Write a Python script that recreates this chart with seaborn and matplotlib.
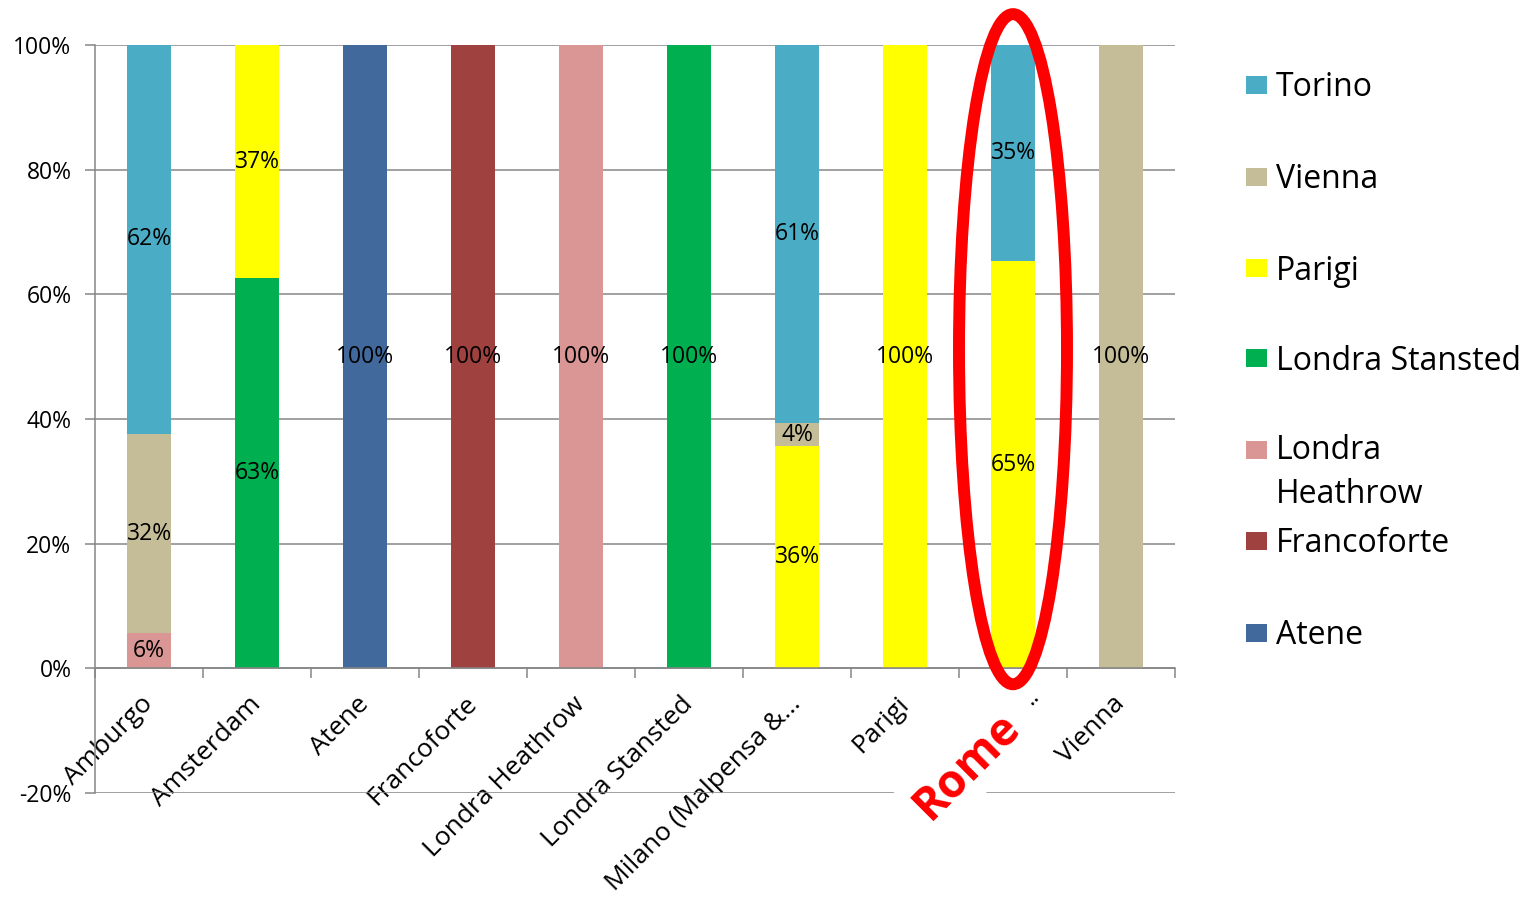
import matplotlib
matplotlib.use("Agg")
import matplotlib.pyplot as plt
import seaborn as sns
import pandas as pd
import numpy as np
from matplotlib.patches import Ellipse, Rectangle
from matplotlib.ticker import PercentFormatter

# ---- data (share of routes per destination, %) ----
airports = ["Amburgo", "Amsterdam", "Atene", "Francoforte", "Londra Heathrow",
            "Londra Stansted", "Milano (Malpensa &…", "Parigi", "Rome", "Vienna"]
series = ["Torino", "Vienna", "Parigi", "Londra Stansted", "Londra Heathrow",
          "Francoforte", "Atene"]
legend_labels = ["Torino", "Vienna", "Parigi", "Londra Stansted",
                 "Londra\nHeathrow", "Francoforte", "Atene"]

torino          = [62.4, 0, 0, 0, 0, 0, 60.6, 0, 34.7, 0]
vienna          = [32.0, 0, 0, 0, 0, 0, 3.8, 0, 0, 100]
parigi          = [0, 37.4, 0, 0, 0, 0, 35.6, 100, 65.3, 0]
londra_stansted = [0, 62.6, 0, 0, 0, 100, 0, 0, 0, 0]
londra_heathrow = [5.6, 0, 0, 0, 100, 0, 0, 0, 0, 0]
francoforte     = [0, 0, 0, 100, 0, 0, 0, 0, 0, 0]
atene           = [0, 0, 100, 0, 0, 0, 0, 0, 0, 0]

colors = {"Torino": "#4BACC6", "Vienna": "#C4BD97", "Parigi": "#FFFF00",
          "Londra Stansted": "#00B050", "Londra Heathrow": "#D99694",
          "Francoforte": "#9E413F", "Atene": "#41699C"}

values = dict(zip(series, [torino, vienna, parigi, londra_stansted,
                           londra_heathrow, francoforte, atene]))
rows = [(a, s, values[s][i]) for i, a in enumerate(airports) for s in series]
df = pd.DataFrame(rows, columns=["airport", "city", "share"])

# ---- style ----
sns.set_style("white")
plt.rcParams["font.family"] = ["Open Sans", "DejaVu Sans"]
plt.rcParams["axes.unicode_minus"] = False
plt.rcParams["text.color"] = "black"
GRID = "#868686"
W, H = 1534, 899

fig = plt.figure(figsize=(W / 100, H / 100), dpi=100)
ax = fig.add_axes([95 / W, 1 - 793 / H, 1080 / W, 748 / H])

sns.histplot(data=df, x="airport", hue="city", weights="share",
             multiple="stack", discrete=True, shrink=0.4,
             hue_order=series, palette=colors, linewidth=0, alpha=1,
             ax=ax, legend=False)

# data labels
for c in ax.containers:
    labs = [f"{v:.0f}%" if v > 0 else "" for v in c.datavalues]
    ax.bar_label(c, labels=labs, label_type="center", fontsize=16.5,
                 color="black", zorder=4)

# axes
ax.set_xlim(-0.5, 9.5)
ax.set_ylim(-20, 100)
ax.set_yticks(range(-20, 101, 20))
ax.yaxis.set_major_formatter(PercentFormatter(decimals=0))
ax.set_xlabel("")
ax.set_ylabel("")
ax.set_axisbelow(True)
ax.grid(axis="y", color=GRID, linewidth=1.1)
ax.grid(axis="x", visible=False)

for s in ["top", "right"]:
    ax.spines[s].set_visible(False)
ax.spines["left"].set_color(GRID)
ax.spines["left"].set_linewidth(1.1)
ax.spines["bottom"].set_color(GRID)
ax.spines["bottom"].set_linewidth(1.1)
ax.spines["bottom"].set_position(("data", 0))

ax.tick_params(axis="y", which="major", length=7, width=1.1, color=GRID,
               pad=10, labelsize=16.5, labelcolor="black", left=True)
# the Rome label is replaced by the highlighted annotation below
ax.set_xticks(range(len(airports)))
ax.set_xticklabels(["" if a == "Rome" else a for a in airports])
ax.set_xticks(np.arange(-0.5, len(airports), 1), minor=True)
ax.tick_params(axis="x", which="major", length=0, pad=23, labelsize=19,
               labelcolor="black")
ax.tick_params(axis="x", which="minor", length=7, width=1.1, color=GRID,
               bottom=True, direction="out")
plt.setp(ax.get_xticklabels(), rotation=45, ha="right", va="center",
         rotation_mode="anchor")

# highlight Rome
rome = airports.index("Rome")
ax.add_patch(Ellipse((rome, 51.2), width=1.0, height=107.5, fill=False,
                     edgecolor="red", linewidth=8.6, clip_on=False, zorder=7))
ax.annotate("Rome", xy=(rome, 0), xytext=(-33, -70), textcoords="offset points",
            rotation=45, rotation_mode="anchor", ha="center", va="center",
            fontsize=33, fontweight="bold", color="red", zorder=6,
            annotation_clip=False,
            bbox=dict(boxstyle="square,pad=0.2", fc="white", ec="none"))
ax.annotate("..", xy=(rome, 0), xytext=(13, -21), textcoords="offset points",
            rotation=45, rotation_mode="anchor", ha="center", va="center",
            fontsize=17, color="black", zorder=8, annotation_clip=False)

# legend (Excel-like layout, Heathrow entry on two lines)
legend_y = [85, 177, 268, 358, 450, 541, 633]
for name, lab, y in zip(series, legend_labels, legend_y):
    fig.add_artist(Rectangle((1246 / W, 1 - (y + 9) / H), 21 / W, 18 / H,
                             transform=fig.transFigure, color=colors[name],
                             linewidth=0))
    if "\n" in lab:
        fig.text(1276 / W, 1 - (y - 16) / H, lab, fontsize=23, va="top",
                 ha="left", linespacing=1.45, color="black")
    else:
        fig.text(1276 / W, 1 - (y - 1) / H, lab, fontsize=23,
                 va="center_baseline", ha="left", color="black")

fig.savefig("out.png", dpi=100)
